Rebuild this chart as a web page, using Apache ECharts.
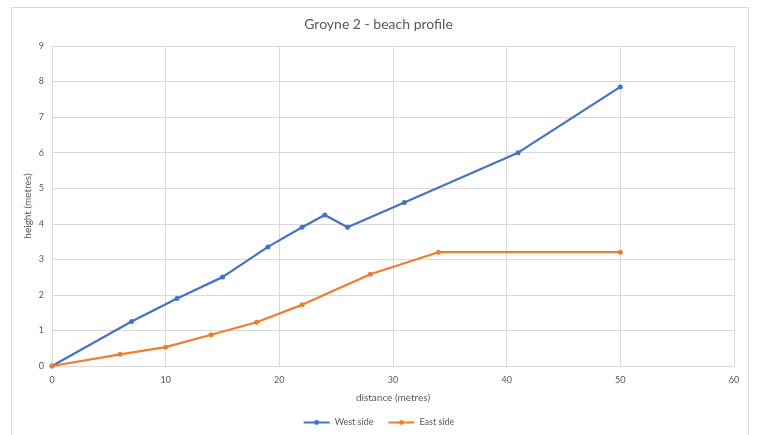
<!DOCTYPE html>
<html>
<head>
<meta charset="utf-8">
<script src="https://cdn.jsdelivr.net/npm/echarts@6/dist/echarts.min.js"></script>
<style>
  html, body { margin: 0; padding: 0; background: #fff; }
  #chart { width: 757px; height: 435px; }
</style>
</head>
<body>
<div id="chart"></div>
<script>
// Beach profile measurements: distance along the groyne (m) and height (m)
const westDistance = [0, 7, 11, 15, 19, 22, 24, 26, 31, 41, 50];
const westHeight   = [0, 1.25, 1.9, 2.5, 3.35, 3.9, 4.25, 3.9, 4.6, 6.0, 7.85];
const eastDistance = [0, 6, 10, 14, 18, 22, 28, 34, 50];
const eastHeight   = [0, 0.33, 0.53, 0.88, 1.23, 1.72, 2.58, 3.2, 3.2];

const pairs = (xs, ys) => xs.map((x, i) => [x, ys[i]]);

const font = 'Lato, "Open Sans", sans-serif';
const textGrey = '#595959';
const gridGrey = '#d9d9d9';

const chart = echarts.init(document.getElementById('chart'), null, { renderer: 'canvas' });
chart.setOption({
  backgroundColor: '#fff',
  animation: false,
  graphic: [{
    type: 'rect',
    shape: { x: 11.5, y: 7.5, width: 737, height: 440 },
    style: { fill: 'none', stroke: '#d9d9d9', lineWidth: 1 },
    silent: true
  }],
  title: {
    text: 'Groyne 2 - beach profile',
    left: 'center',
    top: 12,
    textStyle: { fontFamily: font, fontSize: 14, fontWeight: 'normal', color: textGrey }
  },
  grid: { left: 52, right: 23, top: 46, bottom: 69, containLabel: false },
  xAxis: {
    type: 'value',
    min: 0, max: 60, interval: 10,
    name: 'distance (metres)',
    nameLocation: 'middle',
    nameGap: 27,
    nameTextStyle: { fontFamily: font, fontSize: 10, color: textGrey },
    axisLine: { show: true, lineStyle: { color: gridGrey } },
    axisTick: { show: false },
    axisLabel: { fontFamily: font, fontSize: 9, color: textGrey, margin: 10 },
    splitLine: { show: true, lineStyle: { color: gridGrey } }
  },
  yAxis: {
    type: 'value',
    min: 0, max: 9, interval: 1,
    name: 'height (metres)',
    nameLocation: 'middle',
    nameGap: 19,
    nameMoveOverlap: false,
    nameTextStyle: { fontFamily: font, fontSize: 10, color: textGrey },
    axisLine: { show: false },
    axisTick: { show: false },
    axisLabel: { fontFamily: font, fontSize: 9, color: textGrey, margin: 8 },
    splitLine: { show: true, lineStyle: { color: gridGrey } }
  },
  legend: {
    bottom: 3,
    left: 'center',
    itemWidth: 26,
    itemHeight: 6,
    itemGap: 14,
    textStyle: { fontFamily: font, fontSize: 9, color: textGrey },
    data: ['West side', 'East side']
  },
  series: [
    {
      name: 'West side',
      type: 'line',
      data: pairs(westDistance, westHeight),
      color: '#4472C4',
      symbol: 'circle',
      symbolSize: 5,
      showAllSymbol: true,
      lineStyle: { width: 2.25 }
    },
    {
      name: 'East side',
      type: 'line',
      data: pairs(eastDistance, eastHeight),
      color: '#ED7D31',
      symbol: 'circle',
      symbolSize: 5,
      showAllSymbol: true,
      lineStyle: { width: 2.25 }
    }
  ]
});
</script>
</body>
</html>
